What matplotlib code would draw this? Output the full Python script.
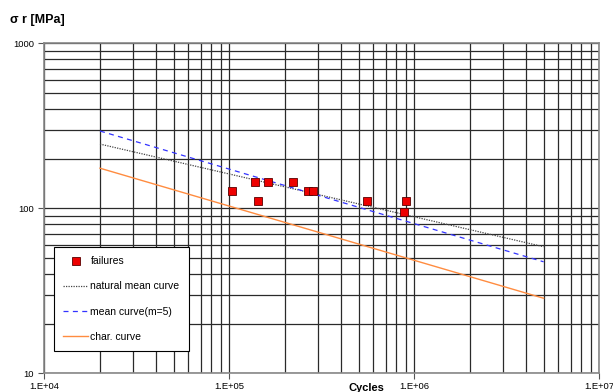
import numpy as np
import matplotlib
matplotlib.use("Agg")
import matplotlib.pyplot as plt
from matplotlib.ticker import LogLocator, NullFormatter, FixedLocator

plt.rcParams["font.family"] = ["Liberation Sans", "DejaVu Sans"]

# failures (cycles, stress range MPa)
fail_cycles = [1.04e5, 1.38e5, 1.435e5, 1.625e5, 2.2e5, 2.67e5, 2.85e5, 5.53e5, 8.8e5, 8.98e5]
fail_stress = [127, 145, 111, 145, 145, 127, 127, 111, 95, 111]

# curve end points
curve_cycles = [2e4, 5e6]
natural_mean = [245, 58.5]
mean_m5 = [294, 47.4]
char_curve = [175, 28.5]

x_ticks = [1e4, 1e5, 1e6, 1e7]
x_labels = ["1.E+04", "1.E+05", "1.E+06", "1.E+07"]
y_ticks = [10, 100, 1000]
y_labels = ["10", "100", "1000"]

fig = plt.figure(figsize=(6.13, 3.92), dpi=100)
ax = fig.add_axes([44.3 / 613, 1 - 373.3 / 392, (599.3 - 44.3) / 613, (373.3 - 43.3) / 392])
ax.set_xscale("log")
ax.set_yscale("log")
ax.set_xlim(1e4, 1e7)
ax.set_ylim(10, 1000)

ax.xaxis.set_major_locator(FixedLocator(x_ticks))
ax.set_xticklabels(x_labels)
ax.yaxis.set_major_locator(FixedLocator(y_ticks))
ax.set_yticklabels(y_labels)
ax.xaxis.set_minor_locator(LogLocator(base=10, subs=np.arange(2, 10)))
ax.yaxis.set_minor_locator(LogLocator(base=10, subs=np.arange(2, 10)))
ax.xaxis.set_minor_formatter(NullFormatter())
ax.yaxis.set_minor_formatter(NullFormatter())
ax.tick_params(which="major", direction="out", length=4, width=0.8, labelsize=6.8, color="#555555")
ax.tick_params(which="minor", length=0)
ax.tick_params(axis="x", pad=2)

ax.grid(which="both", color="#2a2a2a", linewidth=0.9)
ax.set_axisbelow(True)
for s in ax.spines.values():
    s.set_color("#888888")
    s.set_linewidth(1.2)

ax.plot(fail_cycles, fail_stress, ls="none", marker="s", ms=5.5, mfc="#ee0000",
        mec="#5a0000", mew=0.6, label="failures", zorder=5)
ax.plot(curve_cycles, natural_mean, color="#444444", ls=(0, (1, 1)), lw=0.9,
        label="natural mean curve", zorder=4)
ax.plot(curve_cycles, mean_m5, color="#3333ff", ls=(0, (4, 3.5)), lw=0.9,
        label="mean curve(m=5)", zorder=4)
ax.plot(curve_cycles, char_curve, color="#ff8c40", lw=1.0,
        label="char. curve", zorder=4)

leg = ax.legend(loc="lower left", bbox_to_anchor=((54 - 44.3) / 555, (373.3 - 351) / 330),
                fontsize=7.5, frameon=True, fancybox=False, borderpad=0.9,
                labelspacing=1.45, handlelength=2.4, handletextpad=0.2,
                borderaxespad=0)
leg.get_frame().set_edgecolor("black")
leg.get_frame().set_linewidth(0.8)
leg.get_frame().set_alpha(1)
leg.set_zorder(10)

fig.text(10 / 613, 1 - 20 / 392, "σ r [MPa]", fontsize=9, fontweight="bold", va="center")
fig.text(366 / 613, 1 - 388 / 392, "Cycles", fontsize=8, fontweight="bold", ha="center", va="center")

fig.savefig("out.png", dpi=100)
